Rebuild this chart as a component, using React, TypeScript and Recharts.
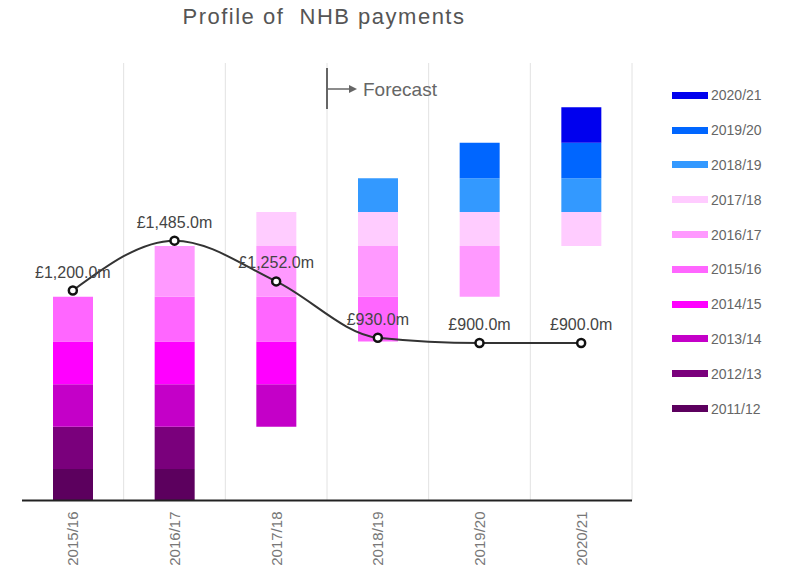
import { ComposedChart, Bar, Line, XAxis, YAxis, CartesianGrid, LabelList } from "recharts";

const years = ["2015/16", "2016/17", "2017/18", "2018/19", "2019/20", "2020/21"];
const totals = [1200, 1485, 1252, 930, 900, 900];

const cohorts = ["2011/12", "2012/13", "2013/14", "2014/15", "2015/16", "2016/17", "2017/18", "2018/19", "2019/20", "2020/21"];
const cohortPayment = [180, 242, 243, 243, 257, 290, 193, 193, 203, 203];
const cohortColors = ["#5c005e", "#7a007c", "#c400c8", "#ff00ff", "#ff66ff", "#ff99ff", "#ffccff", "#3399ff", "#0066ff", "#0000ee"];

// which cohorts are still being paid in each year (index into cohorts)
const firstCohort = [0, 0, 2, 4, 5, 6];
const lastCohort = [4, 5, 6, 7, 8, 9];

const FONT = "Arial, 'Liberation Sans', sans-serif";
const W = 787;
const H = 574;
const margin = { top: 63, right: 155, left: 22, bottom: 0 };
const plotWidth = W - margin.left - margin.right;

const data = years.map((year, i) => {
  const row: Record<string, any> = { year, total: totals[i] };
  // expired cohorts keep their place in the stack, drawn transparent
  row.base = cohortPayment.slice(0, firstCohort[i]).reduce((a, b) => a + b, 0);
  cohorts.forEach((_, c) => {
    row[`c${c}`] = c >= firstCohort[i] && c <= lastCohort[i] ? cohortPayment[c] : 0;
  });
  return row;
});

const money = (v: any) =>
  "£" + Number(v).toLocaleString("en-GB", { minimumFractionDigits: 1, maximumFractionDigits: 1 }) + "m";

const YearTick = ({ x, y, payload }: any) => (
  <text
    x={x}
    y={y + 3}
    transform={`rotate(-90, ${x}, ${y + 3})`}
    textAnchor="end"
    dominantBaseline="central"
    fontSize={15}
    fill="#777"
    fontFamily={FONT}
  >
    {payload.value}
  </text>
);

export default function App() {
  return (
    <div style={{ position: "absolute", left: 0, top: 0, width: W, height: H, background: "#fff", fontFamily: FONT }}>
      <div
        style={{
          position: "absolute",
          left: 0,
          top: 4,
          width: 648,
          textAlign: "center",
          fontSize: 22,
          letterSpacing: 1.5,
          color: "#555",
          whiteSpace: "pre",
        }}
      >
        {"Profile of  NHB payments"}
      </div>

      <ComposedChart width={W} height={H} data={data} margin={margin} barCategoryGap={0}>
        <CartesianGrid
          horizontal={false}
          stroke="#e2e2e2"
          verticalCoordinatesGenerator={() =>
            years.map((_, i) => margin.left + ((i + 1) * plotWidth) / years.length)
          }
        />
        <XAxis
          dataKey="year"
          height={73.5}
          interval={0}
          tickLine={false}
          axisLine={{ stroke: "#222", strokeWidth: 2 }}
          tick={<YearTick />}
        />
        <YAxis hide domain={[0, 2500]} />
        <Bar dataKey="base" stackId="a" fill="transparent" barSize={40} isAnimationActive={false} />
        {cohorts.map((name, c) => (
          <Bar
            key={name}
            dataKey={`c${c}`}
            name={name}
            stackId="a"
            fill={cohortColors[c]}
            barSize={40}
            isAnimationActive={false}
          />
        ))}
        <Line
          type="monotone"
          dataKey="total"
          stroke="#333"
          strokeWidth={2}
          dot={{ r: 4, fill: "#fff", stroke: "#111", strokeWidth: 2.5 }}
          isAnimationActive={false}
        >
          <LabelList dataKey="total" position="top" offset={13} formatter={money} fill="#444" fontSize={16} fontFamily={FONT} />
        </Line>
      </ComposedChart>

      <svg style={{ position: "absolute", left: 0, top: 0 }} width={W} height={130}>
        <line x1={327} y1={68} x2={327} y2={109} stroke="#666" strokeWidth={2} />
        <line x1={327} y1={89} x2={350} y2={89} stroke="#666" strokeWidth={1.5} />
        <polygon points="357,89 349,85 349,93" fill="#666" />
        <text x={363} y={96} fontSize={19} fill="#666" fontFamily={FONT}>
          Forecast
        </text>
      </svg>

      <div style={{ position: "absolute", left: 672, top: 78 }}>
        {cohorts
          .map((name, c) => ({ name, color: cohortColors[c] }))
          .reverse()
          .map((item) => (
            <div key={item.name} style={{ display: "flex", alignItems: "center", height: 34.8 }}>
              <div style={{ width: 36, height: 7, background: item.color, marginRight: 3 }} />
              <span style={{ fontSize: 14, color: "#666" }}>{item.name}</span>
            </div>
          ))}
      </div>
    </div>
  );
}
